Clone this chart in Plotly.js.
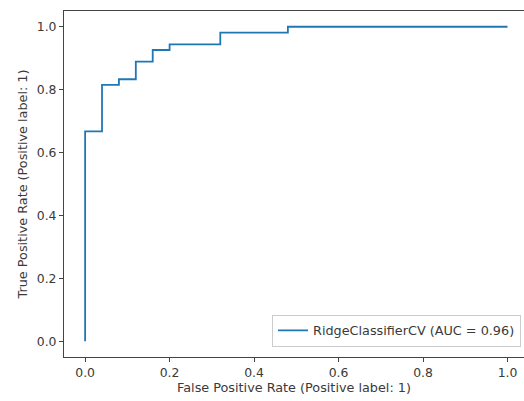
<!DOCTYPE html>
<html>
<head>
<meta charset="utf-8">
<script src="https://cdn.plot.ly/plotly-3.0.1.min.js"></script>
<style>
html,body{margin:0;padding:0;overflow:hidden;background:#fff;}
#chart{width:524px;height:401px;}
</style>
</head>
<body>
<div id="chart"></div>
<script>
// ROC curve points (step curve)
const fpr = [0.0, 0.0, 0.04, 0.08, 0.12, 0.16, 0.20, 0.32, 0.48, 1.0];
const tpr = [0.0, 0.667, 0.815, 0.833, 0.889, 0.926, 0.944, 0.981, 1.0, 1.0];
const seriesName = "RidgeClassifierCV (AUC = 0.96)";
const xTicks = [0.0, 0.2, 0.4, 0.6, 0.8, 1.0];
const yTicks = [0.0, 0.2, 0.4, 0.6, 0.8, 1.0];
const xTitle = "False Positive Rate (Positive label: 1)";
const yTitle = "True Positive Rate (Positive label: 1)";

const font = "DejaVu Sans, sans-serif";
const txtColor = "#3a3a3a";
const fs = 12.8;
const axisCommon = {
  showline: true, linecolor: "#444", linewidth: 1,
  ticks: "outside", ticklen: 4, tickwidth: 1, tickcolor: "#444",
  showgrid: false, zeroline: false,
  tickfont: {family: font, size: 12.4, color: txtColor},
  tickformat: ".1f"
};

const trace = {
  x: fpr, y: tpr, type: "scatter", mode: "lines",
  line: {shape: "hv", color: "#1f77b4", width: 1.8},
  name: seriesName, showlegend: true
};

// the reference figure is cropped on the right: the axes box runs past the image edge
const layout = {
  width: 524, height: 401,
  margin: {l: 64, r: 0, t: 11, b: 44},
  paper_bgcolor: "#fff", plot_bgcolor: "#fff",
  xaxis: Object.assign({}, axisCommon, {
    mirror: true,
    range: [-0.05, 1.039], tickvals: xTicks,
    title: {text: xTitle, font: {family: font, size: fs, color: txtColor}, standoff: 3}
  }),
  yaxis: Object.assign({}, axisCommon, {
    mirror: false,
    range: [-0.05, 1.05], tickvals: yTicks,
    title: {text: yTitle, font: {family: font, size: fs, color: txtColor}, standoff: 6}
  }),
  showlegend: true,
  legend: {
    x: 0.9935, y: 0.03, xanchor: "right", yanchor: "bottom",
    bgcolor: "rgba(255,255,255,0.8)", bordercolor: "#ccc", borderwidth: 1,
    font: {family: font, size: fs, color: txtColor}
  }
};

Plotly.newPlot("chart", [trace], layout, {displayModeBar: false, staticPlot: true});
</script>
</body>
</html>
